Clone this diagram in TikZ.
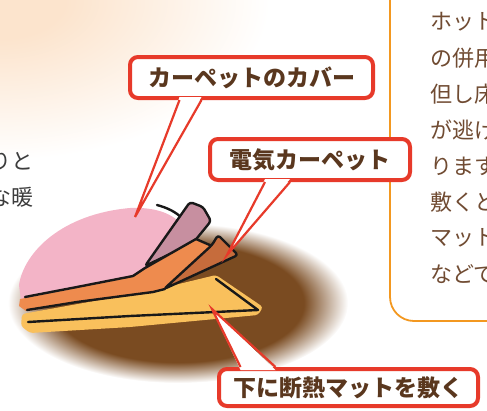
\documentclass[tikz,border=0pt]{standalone}
\usepackage{fontspec}
\newfontfamily\jpfont{Noto Sans CJK JP}
\usetikzlibrary{calc}

\definecolor{peach}{HTML}{FCE4CD}
\definecolor{mudbrown}{HTML}{7A4B21}
\definecolor{coverpink}{HTML}{F3B4C7}
\definecolor{flapmauve}{HTML}{C78FA0}
\definecolor{carpetorange}{HTML}{EE8B4E}
\definecolor{carpetdark}{HTML}{C66C3C}
\definecolor{matyellow}{HTML}{F9C05C}
\definecolor{calloutred}{HTML}{E73A2A}
\definecolor{labelbrown}{HTML}{5A371E}
\definecolor{notebrown}{HTML}{704B32}
\definecolor{noteorange}{HTML}{F39820}
\definecolor{inkgray}{HTML}{3C3C3C}

% soft floor shadow and the warm corner glow (path edge = 25bp)
\pgfdeclareradialshading{floorshadow}{\pgfpoint{0bp}{0bp}}{color(0bp)=(mudbrown); color(18.5bp)=(mudbrown); color(25bp)=(white); color(50bp)=(white)}
\pgfdeclareradialshading{peachglow}{\pgfpoint{0bp}{0bp}}{color(0bp)=(peach); color(6bp)=(peach); color(25bp)=(white); color(50bp)=(white)}

\tikzset{
  ink/.style={line width=2.4pt, line join=round, line cap=round, black!90},
  callout/.style={draw=calloutred, line width=4pt, fill=white, rounded corners=8pt,
    inner sep=0pt, text=labelbrown, font=\jpfont\bfseries\fontsize{23}{23}\selectfont},
  tail/.style={draw=calloutred, line width=2.2pt, line join=miter},
  note/.style={anchor=west, inner sep=0pt, text=notebrown, font=\jpfont\fontsize{22}{22}\selectfont},
  sidetext/.style={anchor=east, inner sep=0pt, text=inkgray, font=\jpfont\fontsize{22}{22}\selectfont},
}

\begin{document}
\begin{tikzpicture}[x=1pt, y=-1pt]

    \useasboundingbox (0,0) rectangle (487,410);
    \clip (0,0) rectangle (487,410);

    % 背景
    \shade[shading=peachglow] (0,0) ellipse (270 and 160);

    % 左の本文（切れている）
    \node[sidetext] (sideA) at (34,161) {りと};
    \node[sidetext] (sideB) at (34,197) {な暖};

    % 右の囲み
    \draw[noteorange, line width=1.8pt, rounded corners=24pt] (390,-40) rectangle (540,321);
    \foreach \txt [count=\i from 0] in {ホット, の併用, 但し床, が逃げ, ります, 敷くと, マット, などで}
        \node[note] (note\i) at (430,22+36*\i) {\txt};

    % 床の影
    \shade[shading=floorshadow] (178,303) ellipse (170 and 80);

    % 断熱マット
    \fill[matyellow, rounded corners=3pt] (22,314) -- (150,291) -- (216,275) -- (263,307)
        -- (258,315) -- (130,327) -- (30,333) -- (21,326) -- cycle;
    \draw[ink] (28,322) -- (130,316) -- (258,310) -- (216,279);

    % カバー
    \fill[coverpink] (21,300) -- (19,285) .. controls (24,252) and (62,214) .. (130,208)
        .. controls (155,207) and (170,213) .. (181,223) -- (160,262) -- (135,278) -- cycle;
    \draw[ink] (157,205) .. controls (168,208) and (176,212) .. (183,219);

    % めくれたカバー
    \filldraw[ink, fill=flapmauve, rounded corners=3pt] (145,266) -- (190,202) -- (203,207)
        -- (211,221) -- (193,243) -- cycle;

    % 電気カーペット
    \fill[carpetorange] (20,299) -- (77,288) -- (133,276) -- (145,268) -- (196,239)
        -- (213,246) -- (165,289) -- (153,293) -- (77,303) -- (26,311) -- (19,306) -- cycle;
    \draw[ink] (25,297) -- (77,287) -- (133,276) -- (145,268) -- (196,239) -- (212,246);
    \draw[ink] (27,310) -- (77,302) -- (153,292) -- (165,289);

    % 折り返し部分
    \filldraw[ink, fill=carpetdark, rounded corners=3pt] (164,289) -- (212,245) -- (218,235)
        -- (238,255) -- cycle;

    % ラベル
    \node[callout, minimum width=243pt, minimum height=41pt] (cover) at (251.5,77.5) {カーペットのカバー};
    \node[callout, minimum width=200pt, minimum height=41pt] (heater) at (310,159.5) {電気カーペット};
    \node[callout, minimum width=259pt, minimum height=37pt] (mat) at (348.5,387.5) {下に断熱マットを敷く};

    \coordinate (coverTip) at (135,217);
    \coordinate (heaterTip) at (227,255);
    \coordinate (matTip) at (212,309);

    % 吹き出しの尾
    \fill[white] ($(cover.south)+(-72,-3)$) -- (coverTip) -- ($(cover.south)+(-50,-3)$) -- cycle;
    \draw[tail] ($(cover.south)+(-72,0)$) -- (coverTip) -- ($(cover.south)+(-50,0)$);

    \fill[white] ($(heater.south)+(-45,-3)$) -- (heaterTip) -- ($(heater.south)+(-20,-3)$) -- cycle;
    \draw[tail] ($(heater.south)+(-45,0)$) -- (heaterTip) -- ($(heater.south)+(-20,0)$);

    \fill[white] ($(mat.north)+(-108,3)$) -- (matTip) -- ($(mat.north)+(-73,3)$) -- cycle;
    \draw[tail] ($(mat.north)+(-108,0)$) -- (matTip) -- ($(mat.north)+(-73,0)$);

\end{tikzpicture}
\end{document}
